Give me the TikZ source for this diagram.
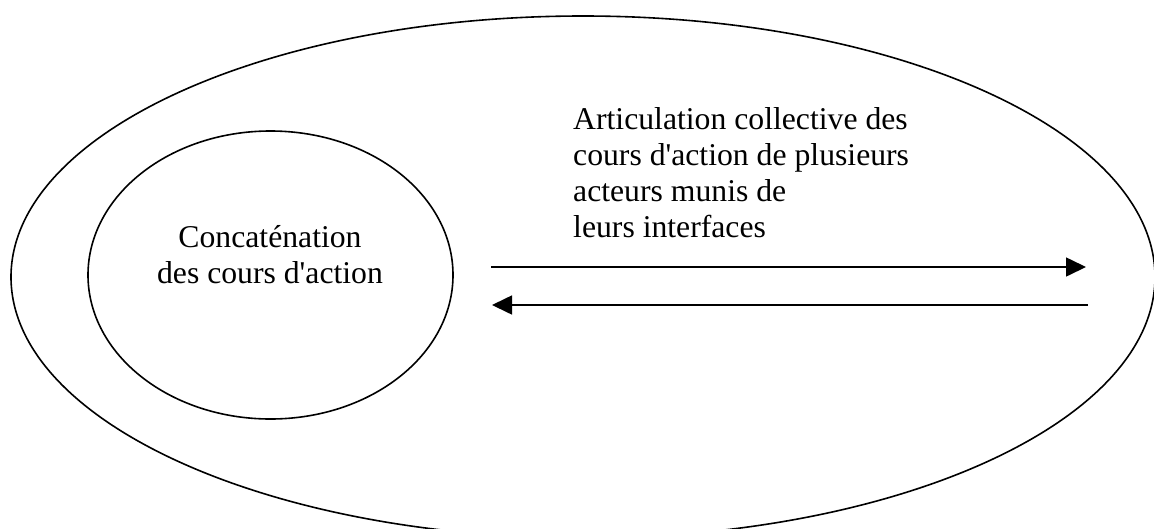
\documentclass[tikz,border=0pt]{standalone}
\usepackage{fontspec}
\setmainfont{Liberation Serif}[Ligatures=TeXOff]
\usetikzlibrary{shapes,arrows.meta,positioning}

\begin{document}
\begin{tikzpicture}[x=1pt, y=-1pt,
    bubble/.style={draw, ellipse, line width=1.6pt, inner sep=0pt},
    flow/.style={line width=1.6pt, -{Triangle[length=20pt,width=19pt]}},
    txt/.style={font=\fontsize{31.7}{36}\selectfont, inner sep=0pt}]
    \useasboundingbox (0,0) rectangle (1154,528);
    \clip (0,0) rectangle (1154,528);
    % the two levels
    \node [bubble, minimum width=1144pt, minimum height=522pt] (outer) at (583,277) {};
    \node [bubble, minimum width=365pt, minimum height=288pt] (inner) at (270.5,275) {};
    \node [txt, align=center, anchor=north] (concat) at (270,225) {Concaténation\\des cours d'action};
    \node [txt, align=left, anchor=north west] (artic) at (573,107) {Articulation collective des\\cours d'action de plusieurs\\acteurs munis de\\leurs interfaces};
    % arrows between them
    \coordinate (fwdA) at (491,267); \coordinate (fwdB) at (1086,267);
    \coordinate (bckA) at (1088,305); \coordinate (bckB) at (492,305);
    \draw [flow] (fwdA) -- (fwdB);
    \draw [flow] (bckA) -- (bckB);
\end{tikzpicture}
\end{document}
